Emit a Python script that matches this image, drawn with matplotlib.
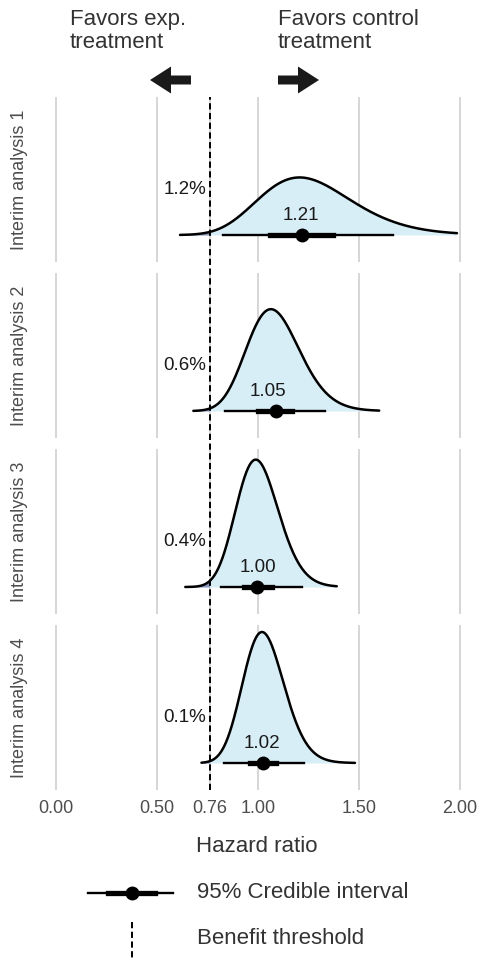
import numpy as np
import matplotlib
matplotlib.use("Agg")
import matplotlib.pyplot as plt
from matplotlib.lines import Line2D
from matplotlib.patches import FancyArrow
from matplotlib.transforms import blended_transform_factory

plt.rcParams['font.family'] = ['Liberation Sans', 'DejaVu Sans']

# posterior of the hazard ratio at each interim look (log-normal)
analyses = ["Interim analysis 1", "Interim analysis 2", "Interim analysis 3", "Interim analysis 4"]
median_hr = [1.25, 1.08, 1.00, 1.03]
log_sd = [0.19, 0.123, 0.106, 0.10]
curve_lo = [0.614, 0.68, 0.64, 0.72]
curve_hi = [1.985, 1.60, 1.39, 1.48]

point_hr = [1.22, 1.09, 0.995, 1.025]
ci66_lo = [1.06, 1.00, 0.93, 0.96]
ci66_hi = [1.37, 1.17, 1.07, 1.09]
ci95_lo = [0.827, 0.837, 0.817, 0.83]
ci95_hi = [1.67, 1.33, 1.22, 1.23]

label_hr = [1.21, 1.05, 1.00, 1.02]
prob_benefit = [1.2, 0.6, 0.4, 0.1]

threshold = 0.76
x_ticks = [0.0, 0.5, 0.76, 1.0, 1.5, 2.0]
x_ticklabels = ["0.00", "0.50", "0.76", "1.00", "1.50", "2.00"]

W, H = 478, 960
FILL = "#d8eef7"
TAIL = "#8e98bf"
GRID = "#d6d6d6"
TXT = "#4d4d4d"


def lognorm_pdf(x, m, s):
    return np.exp(-(np.log(x) - np.log(m)) ** 2 / (2 * s ** 2)) / (x * s * np.sqrt(2 * np.pi))


fig = plt.figure(figsize=(W / 100, H / 100), dpi=100)

grids = [np.linspace(lo, hi, 400) for lo, hi in zip(curve_lo, curve_hi)]
dens = [lognorm_pdf(g, m, s) for g, m, s in zip(grids, median_hr, log_sd)]
scale = 131 / max(d.max() for d in dens)

panel_top = [97, 273, 449, 625]
panel_h = 165
left_px, right_px = 36, 478
px_per_unit = 202
x0_px = 56

axes = []
for i, name in enumerate(analyses):
    ax = fig.add_axes([left_px / W, 1 - (panel_top[i] + panel_h) / H,
                       (right_px - left_px) / W, panel_h / H])
    axes.append(ax)
    ax.set_xlim((left_px - x0_px) / px_per_unit, (right_px - x0_px) / px_per_unit)
    ax.set_ylim(-27, panel_h - 27)

    g, d = grids[i], dens[i] * scale
    ax.fill_between(g, 0, d, color=FILL, lw=0, zorder=2)
    tail = g <= threshold
    g_tail = np.append(g[tail], threshold)
    d_tail = np.append(d[tail], lognorm_pdf(threshold, median_hr[i], log_sd[i]) * scale)
    ax.fill_between(g_tail, 0, d_tail, color=TAIL, lw=0, zorder=2)
    ax.plot(g, d, color="black", lw=1.8, zorder=3, solid_capstyle="round")

    ax.plot([ci95_lo[i], ci95_hi[i]], [0, 0], color="black", lw=1.7, zorder=4)
    ax.plot([ci66_lo[i], ci66_hi[i]], [0, 0], color="black", lw=3.8, zorder=4)
    ax.plot(point_hr[i], 0, "o", color="black", ms=9, zorder=5)

    ax.text(label_hr[i], 19, f"{label_hr[i]:.2f}", ha="center", va="center",
            fontsize=13.5, color="#1a1a1a", zorder=6)
    ax.text(0.745, 45, f"{prob_benefit[i]:.1f}%", ha="right", va="center",
            fontsize=13.5, color="#1a1a1a", zorder=6)

    ax.set_xticks(x_ticks)
    ax.grid(axis="x", color=GRID, lw=1.4, zorder=0)
    ax.set_yticks([])
    ax.tick_params(length=0, pad=7, labelsize=13, labelcolor=TXT)
    if i < len(analyses) - 1:
        ax.set_xticklabels([])
    else:
        ax.set_xticklabels(x_ticklabels)
    for sp in ax.spines.values():
        sp.set_visible(False)
    ax.set_axisbelow(True)

    fig.text(20 / W, 1 - (panel_top[i] + panel_h / 2) / H, name, rotation=90,
             ha="center", va="center", fontsize=13, color=TXT)

# benefit threshold across all panels
tr = blended_transform_factory(axes[-1].transData, fig.transFigure)
fig.add_artist(Line2D([threshold, threshold], [1 - 790 / H, 1 - 97 / H], transform=tr,
                      color="black", lw=1.4, ls=(0, (3.2, 1.8)), zorder=10))

# overlay in pixel coordinates for headers, arrows and legend
ov = fig.add_axes([0, 0, 1, 1], facecolor="none")
ov.set_xlim(0, W)
ov.set_ylim(H, 0)
ov.axis("off")

ov.text(70, 9, "Favors exp.\ntreatment", ha="left", va="top", fontsize=16,
        color="#333333", linespacing=1.1)
ov.text(278, 9, "Favors control\ntreatment", ha="left", va="top", fontsize=16,
        color="#333333", linespacing=1.1)
ov.add_patch(FancyArrow(191, 80, -41, 0, width=9, head_width=27, head_length=21,
                        length_includes_head=True, color="#1a1a1a", lw=0))
ov.add_patch(FancyArrow(278, 80, 41, 0, width=9, head_width=27, head_length=21,
                        length_includes_head=True, color="#1a1a1a", lw=0))

ov.text(257, 847, "Hazard ratio", ha="center", va="center", fontsize=16, color="#333333")

ov.plot([88, 173], [893, 893], color="black", lw=1.7)
ov.plot([108, 155], [893, 893], color="black", lw=3.8)
ov.plot(132, 893, "o", color="black", ms=9)
ov.text(197, 893, "95% Credible interval", ha="left", va="center", fontsize=16, color="#333333")
ov.plot([132, 132], [922, 962], color="black", lw=1.4, ls=(0, (3.2, 1.8)), clip_on=False)
ov.text(197, 938, "Benefit threshold", ha="left", va="center", fontsize=16, color="#333333")

fig.savefig("out.png", dpi=100)
